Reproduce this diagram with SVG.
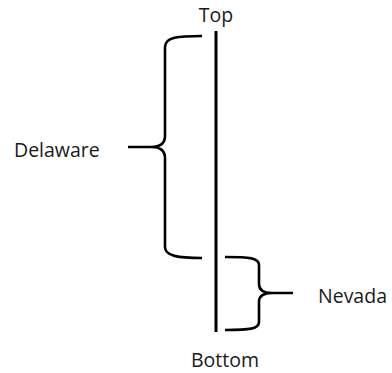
<svg xmlns="http://www.w3.org/2000/svg" width="392" height="373" viewBox="0 0 392 373">
<style>
.ln{fill:none;stroke:#000;stroke-width:3;stroke-linecap:butt}
.br{fill:none;stroke:#000;stroke-width:2.6;stroke-linejoin:round}
.t{font-family:"Open Sans","Liberation Sans",sans-serif;font-size:19.5px;fill:#1a1a1a}
</style>
<rect width="392" height="373" fill="#fff"/>
<g id="connectors">
<line id="axis" class="ln" x1="216" y1="31" x2="216" y2="332"/>
<path id="brace-delaware" class="br" d="M202,36 C178,36 165,37 165,47 L165,136 C165,143 160,147 151,147 L128,147 M151,147 C160,147 165,151 165,158 L165,247 C165,256 178,258 202,258"/>
<path id="brace-nevada" class="br" d="M225,257 C250,257 259,258 259,265 L259,284 C259,290 264,293 272,293 L293,293 M272,293 C264,293 259,296 259,302 L259,322 C259,329 250,330 225,330"/>
</g>
<g id="top"><text class="t" x="216" y="22" text-anchor="middle">Top</text></g>
<g id="bottom"><text class="t" x="225" y="367" text-anchor="middle">Bottom</text></g>
<g id="delaware"><text class="t" x="14" y="157">Delaware</text></g>
<g id="nevada"><text class="t" x="318" y="303">Nevada</text></g>
</svg>
